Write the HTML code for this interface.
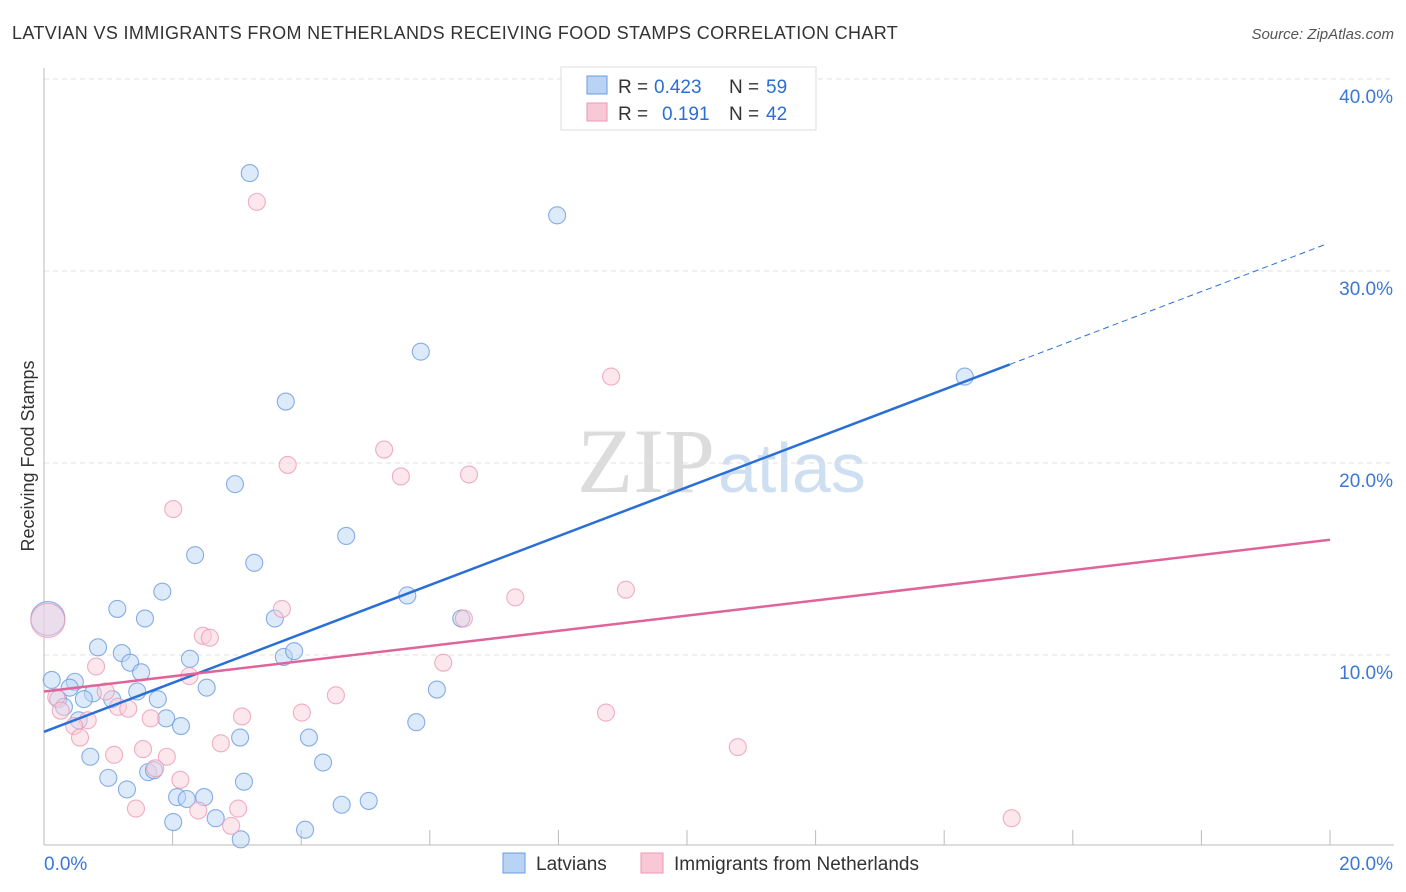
<!DOCTYPE html>
<html><head><meta charset="utf-8"><style>
body{margin:0;background:#fff;font-family:"Liberation Sans",sans-serif;}
#wrap{position:relative;width:1406px;height:892px;overflow:hidden}
</style></head><body>
<div id="wrap">
<svg id="svg" width="1406" height="892">
<text x="12" y="39" font-size="18" fill="#333" letter-spacing="0.35">LATVIAN VS IMMIGRANTS FROM NETHERLANDS RECEIVING FOOD STAMPS CORRELATION CHART</text>
<text x="1394" y="39" font-size="15" fill="#555" text-anchor="end" font-style="italic">Source: ZipAtlas.com</text>
<text transform="translate(34,456) rotate(-90)" font-size="18" fill="#333" text-anchor="middle">Receiving Food Stamps</text>
<text x="715" y="492" font-size="92" fill="#dcdcdc" text-anchor="end" font-family="Liberation Serif">ZIP</text>
<text x="718" y="492" font-size="70" fill="#cfdff2">atlas</text>
<g id="grid"></g><g id="pts"></g><g id="lines"></g>
<g>
<rect x="561" y="67" width="255" height="63" fill="#fff" stroke="#ddd"/>
<rect x="587" y="76" width="20" height="18" fill="#b9d3f5" stroke="#6a9be0"/>
<rect x="587" y="103" width="20" height="18" fill="#f9c8d6" stroke="#ea9ab2"/>
<text x="618" y="93" font-size="19" fill="#333">R =</text>
<text x="654" y="93" font-size="19" fill="#2a6fd6">0.423</text>
<text x="729" y="93" font-size="19" fill="#333">N =</text>
<text x="766" y="93" font-size="19" fill="#2a6fd6">59</text>
<text x="618" y="120" font-size="19" fill="#333">R =</text>
<text x="662" y="120" font-size="19" fill="#2a6fd6">0.191</text>
<text x="729" y="120" font-size="19" fill="#333">N =</text>
<text x="766" y="120" font-size="19" fill="#2a6fd6">42</text>
</g>
<g>
<rect x="503" y="853" width="22" height="20" fill="#b9d3f5" stroke="#6a9be0"/>
<text x="536" y="870" font-size="19" fill="#333">Latvians</text>
<rect x="641" y="853" width="22" height="20" fill="#f9c8d6" stroke="#ea9ab2"/>
<text x="674" y="870" font-size="19" fill="#333">Immigrants from Netherlands</text>
</g>
</svg></div>
<script>
const yTicks=[10,20,30,40];
const xTickLabels=["0.0%","20.0%"];
const blueX=[3.20,7.98,5.86,14.32,3.76,2.97,4.70,2.35,3.27,1.84,5.65,1.14,1.57,3.59,6.49,0.84,1.21,2.27,3.73,3.89,1.34,1.51,0.12,0.48,0.40,2.53,1.45,0.76,0.62,1.06,1.77,0.22,0.31,6.11,0.54,1.90,2.13,5.79,3.05,4.12,0.72,4.34,1.00,1.62,1.71,3.11,1.29,2.07,2.22,2.49,4.63,5.05,2.67,2.01,4.06,3.06,0.06];
const blueY=[35.1,32.9,25.8,24.5,23.2,18.9,16.2,15.2,14.8,13.3,13.1,12.4,11.9,11.9,11.9,10.4,10.1,9.8,9.9,10.2,9.6,9.1,8.7,8.6,8.3,8.3,8.1,8.0,7.7,7.7,7.7,7.7,7.3,8.2,6.6,6.7,6.3,6.5,5.7,5.7,4.7,4.4,3.6,3.9,4.0,3.4,3.0,2.6,2.5,2.6,2.2,2.4,1.5,1.3,0.9,0.4,11.9];
const pinkX=[3.31,8.82,5.29,3.79,5.55,6.61,2.01,9.05,7.33,3.70,6.53,2.47,2.58,6.21,0.81,2.26,0.96,4.54,0.19,1.15,1.31,1.66,4.01,8.74,0.26,0.68,0.47,3.08,0.56,2.75,1.09,1.54,1.91,10.79,1.73,2.12,1.43,3.02,2.40,2.91,15.05,0.06];
const pinkY=[33.6,24.5,20.7,19.9,19.3,19.4,17.6,13.4,13.0,12.4,11.9,11.0,10.9,9.6,9.4,8.9,8.1,7.9,7.8,7.3,7.2,6.7,7.0,7.0,7.1,6.6,6.3,6.8,5.7,5.4,4.8,5.1,4.7,5.2,4.1,3.5,2.0,2.0,1.9,1.1,1.5,11.8];
const blueTrend=[6.0,31.4];
const pinkTrend=[8.1,16.0];
const X=v=>44+v*64.3, Y=v=>847-v*19.2;
const NS="http://www.w3.org/2000/svg";
function mk(t,a,p){const e=document.createElementNS(NS,t);for(const k in a)e.setAttribute(k,a[k]);p.appendChild(e);return e;}
const g=document.getElementById('grid');
yTicks.forEach(v=>{
 const l=mk('line',{x1:44,x2:1394,y1:Y(v),y2:Y(v),stroke:'#e0e0e0','stroke-dasharray':'5,4'},g);
 
 
 const t=mk('text',{x:1393,y:Y(v)+24,'font-size':19,fill:'#3a78d4','text-anchor':'end'},g);t.textContent=v.toFixed(1)+'%';
 
 
});
mk('line',{x1:44,x2:44,y1:68,y2:845,stroke:'#bbb'},g);
mk('line',{x1:44,x2:1394,y1:845,y2:845,stroke:'#bbb'},g);
for(let i=1;i<=10;i++){mk('line',{x1:X(i*2),x2:X(i*2),y1:830,y2:845,stroke:'#bbb'},g);}
[[0,'start',44],[20,'end',1393]].forEach((d,i)=>{const t=mk('text',{x:d[2],y:870,'font-size':19,fill:'#3a78d4','text-anchor':d[1]},g);t.textContent=xTickLabels[i];
 
 });
const p=document.getElementById('pts');
function dots(xs,ys,fill,stroke,name){xs.forEach((x,i)=>{const big=(i==xs.length-1&&x<0.1);
 const c=mk('circle',{cx:X(x),cy:Y(ys[i]),r:big?17:8.5,fill:fill,'fill-opacity':0.5,stroke:stroke,'stroke-opacity':0.8,'stroke-width':1.1},p);
 
 });}
dots(blueX,blueY,'#bcd5f5','#6a9be0','latvian-point');
dots(pinkX,pinkY,'#fad0dc','#ec9bb5','netherlands-point');
const L=document.getElementById('lines');
const bl=mk('line',{x1:X(0),y1:Y(blueTrend[0]),x2:X(15.02),y2:Y(blueTrend[0]+(blueTrend[1]-blueTrend[0])*15.02/19.94),stroke:'#2a6fd6','stroke-width':2.5},L);


const bd=mk('line',{x1:X(15.02),y1:Y(blueTrend[0]+(blueTrend[1]-blueTrend[0])*15.02/19.94),x2:X(19.94),y2:Y(blueTrend[1]),stroke:'#2a6fd6','stroke-width':1,'stroke-dasharray':'6,4'},L);


const pl=mk('line',{x1:X(0),y1:Y(pinkTrend[0]),x2:X(20),y2:Y(pinkTrend[1]),stroke:'#e0649a','stroke-width':2.5},L);


</script>
</body></html>
